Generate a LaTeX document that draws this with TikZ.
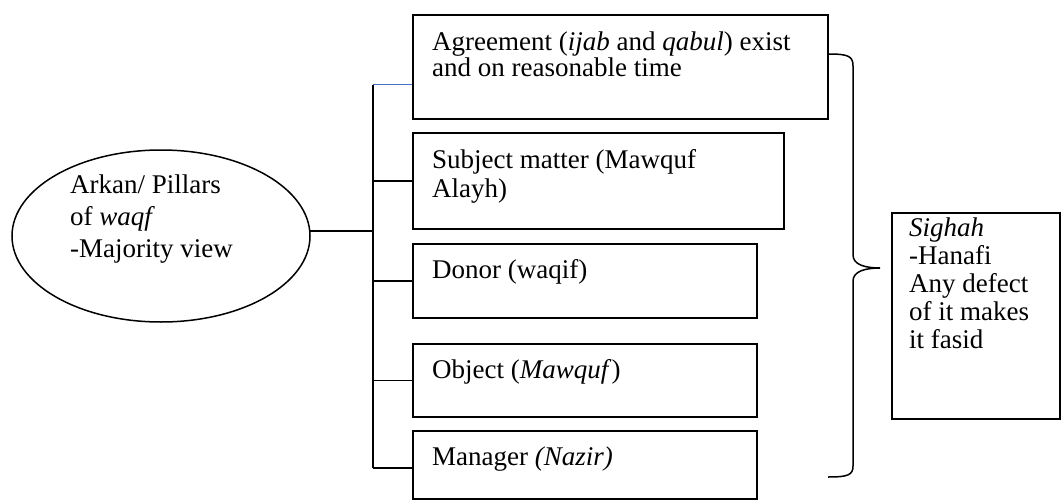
\documentclass[tikz,border=0pt]{standalone}
\usepackage{fontspec}
\setmainfont{Liberation Serif}
\usetikzlibrary{shapes.geometric}

\definecolor{wordblue}{RGB}{68,114,196}
\newcommand{\pillarfont}[1]{\fontsize{27}{#1}\selectfont\lineskiplimit=-30pt\relax}

\begin{document}
\begin{tikzpicture}[x=1pt, y=-1pt,
    pillar/.style={draw, line width=1.8pt, rectangle, anchor=north west, inner sep=0},
    boxtext/.style={anchor=base west, align=left, inner sep=0, font=\pillarfont{28}},
    link/.style={line width=1.5pt}]
    \useasboundingbox (0,0) rectangle (1062,500);

    % arkan (base = last line)
    \node[draw, ellipse, line width=1.5pt, minimum width=298pt, minimum height=172pt, inner sep=0] (arkan) at (161,236) {};
    \node[boxtext, font=\pillarfont{32}] (arkantext) at (70,257) {Arkan/ Pillars\\of \textit{waqf}\\-Majority view};

    % pillars
    \node[pillar, minimum width=415pt, minimum height=104pt] (agree) at (412,14) {};
    \node[boxtext, font=\pillarfont{26}] (agreetext) at ([shift={(20,63)}]agree.north west) {Agreement (\textit{ijab} and \textit{qabul}) exist\\and on reasonable time};

    \node[pillar, minimum width=371pt, minimum height=96pt] (subj) at (412,132) {};
    \node[boxtext, font=\pillarfont{29}] (subjtext) at ([shift={(20,65)}]subj.north west) {Subject matter (Mawquf\\Alayh)};

    \node[pillar, minimum width=344pt, minimum height=74pt] (donor) at (412,243) {};
    \node[boxtext] (donortext) at ([shift={(20,35)}]donor.north west) {Donor (waqif)};

    \node[pillar, minimum width=344pt, minimum height=73pt] (object) at (412,343) {};
    \node[boxtext] (objecttext) at ([shift={(20,35)}]object.north west) {Object (\textit{Mawquf})};

    \node[pillar, minimum width=344pt, minimum height=68pt] (mgr) at (412,430) {};
    \node[boxtext] (mgrtext) at ([shift={(20,35)}]mgr.north west) {Manager \textit{(Nazir)}};

    % trunk
    \coordinate (trunktop) at (373,85);
    \coordinate (trunkbot) at (373,468);
    \draw[link] (trunktop) -- (trunkbot);
    \draw[line width=1pt, wordblue] (trunktop) -- (trunktop -| agree.west);
    \draw[link] (subj.west -| trunktop) -- (subj.west);
    \draw[link] (arkan.2) -- (arkan.2 -| trunktop);
    \draw[link] (donor.west -| trunktop) -- (donor.west);
    \draw[link] (object.west -| trunktop) -- (object.west);
    \draw[link] (trunkbot) -- (trunkbot -| mgr.west);

    % brace
    \draw[link] (828,54) .. controls (848,54) and (853,56) .. (853,66) -- (853,255)
        .. controls (853,265) and (866,268) .. (880,268)
        .. controls (866,268) and (853,271) .. (853,281) -- (853,466)
        .. controls (853,475) and (848,477) .. (828,477);

    % sighah (base = last line)
    \node[pillar, minimum width=168pt, minimum height=206pt] (sighah) at (891,212) {};
    \node[boxtext] (sighahtext) at ([shift={(18,136)}]sighah.north west) {\textit{Sighah}\\-Hanafi\\Any defect\\of it makes\\it fasid};
\end{tikzpicture}
\end{document}
